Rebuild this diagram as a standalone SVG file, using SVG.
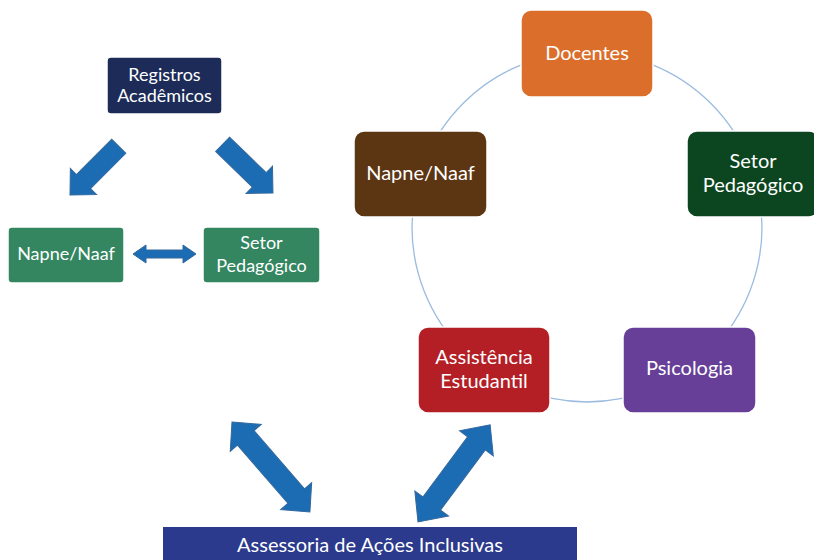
<svg xmlns="http://www.w3.org/2000/svg" width="814" height="560" viewBox="0 0 814 560">
<defs>
<style>
.t{font-family:Lato,"Liberation Sans",sans-serif;fill:#ffffff;text-anchor:middle}
.s{font-size:18px}
.b{font-size:20px}
.box{stroke:#ffffff;stroke-width:1.5}
.arr{fill:#1c6cb4;stroke:#34689c;stroke-width:1}
.ring{fill:none;stroke:#9bbbe0;stroke-width:1.3}
</style>
</defs>
<rect width="814" height="560" fill="#ffffff"/>
<g id="connectors">
<circle class="ring" cx="587" cy="227" r="175"/>
<polygon class="arr" transform="translate(118.8,146.2) rotate(135)" points="0,-10 50,-10 50,-18.5 69,0 50,18.5 50,10 0,10"/>
<polygon class="arr" transform="translate(222.6,144.4) rotate(44)" points="0,-10 51,-10 51,-19 70,0 51,19 51,10 0,10"/>
<polygon class="arr" points="133,254 146,245 146,250 183,250 183,245 196,254 183,263 183,258 146,258 146,263"/>
<polygon class="arr" transform="translate(232,422) rotate(49.1)" points="0,0 21,-20.5 21,-11 98,-11 98,-20.5 119,0 98,20.5 98,11 21,11 21,20.5"/>
<polygon class="arr" transform="translate(418,522) rotate(-53.4)" points="0,0 23,-21 23,-11 98,-11 98,-21 121,0 98,21 98,11 23,11 23,21"/>
</g>
<g id="registros">
<rect class="box" x="107" y="57" width="115" height="57" rx="4" fill="#1c2b57" stroke-width="0.5"/>
<text class="t s" x="164.5" y="81">Registros</text>
<text class="t s" x="164.5" y="102">Acadêmicos</text>
</g>
<g id="napne-left">
<rect class="box" x="8" y="227" width="116" height="56" rx="4" fill="#338660" stroke-width="0.5"/>
<text class="t s" x="66" y="260">Napne/Naaf</text>
</g>
<g id="setor-left">
<rect class="box" x="203" y="227" width="117" height="56" rx="4" fill="#338660" stroke-width="0.5"/>
<text class="t s" x="261.5" y="249">Setor</text>
<text class="t s" x="261.5" y="272">Pedagógico</text>
</g>
<g id="docentes">
<rect class="box" x="521" y="10" width="132" height="87" rx="10" fill="#db6e2b"/>
<text class="t b" x="587" y="60">Docentes</text>
</g>
<g id="setor-right">
<rect class="box" x="687" y="131" width="132" height="86" rx="10" fill="#0c4620"/>
<text class="t b" x="753" y="168">Setor</text>
<text class="t b" x="753" y="192">Pedagógico</text>
</g>
<g id="psicologia">
<rect class="box" x="623" y="327" width="133" height="86" rx="10" fill="#673f98"/>
<text class="t b" x="689.5" y="375">Psicologia</text>
</g>
<g id="assistencia">
<rect class="box" x="418" y="327" width="132" height="86" rx="10" fill="#b31f25"/>
<text class="t b" x="484" y="364">Assistência</text>
<text class="t b" x="484" y="388">Estudantil</text>
</g>
<g id="napne-right">
<rect class="box" x="354" y="131" width="133" height="86" rx="10" fill="#5c3513"/>
<text class="t b" x="420.5" y="180">Napne/Naaf</text>
</g>
<g id="assessoria">
<rect x="163" y="527" width="414" height="40" fill="#2b3a8c"/>
<text class="t" x="370" y="552" style="font-size:20px">Assessoria de Ações Inclusivas</text>
</g>
</svg>
